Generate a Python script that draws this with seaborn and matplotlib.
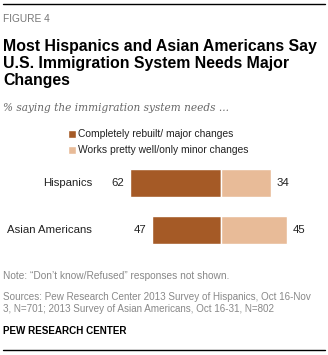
import matplotlib
matplotlib.use("Agg")
import matplotlib.pyplot as plt
import seaborn as sns
import pandas as pd

categories = ["Hispanics", "Asian Americans"]
major_changes = [62, 47]
minor_changes = [34, 45]
series_names = ["Completely rebuilt/ major changes", "Works pretty well/only minor changes"]
colors = ["#A55A26", "#E8BB98"]

W, H = 328, 355
sns.set_theme(style="white")
plt.rcParams['font.family'] = ['Liberation Sans', 'DejaVu Sans']

fig = plt.figure(figsize=(W / 100, H / 100), dpi=100)

def fx(px):
    return px / W

def fy(py):
    return 1 - py / H

# axes: zero at x=221 px, 1.475 px per unit
ppu = 1.475
x0 = 221
xmin, xmax = -80, 60
left_px = x0 + xmin * ppu
right_px = x0 + xmax * ppu
top_px, bot_px = 159.5, 253.5   # centers at 183 and 230 -> 47 px spacing
ax = fig.add_axes([fx(left_px), fy(bot_px), fx(right_px - left_px), (bot_px - top_px) / H])

df = pd.DataFrame({"cat": categories,
                   "major": [-v for v in major_changes],
                   "minor": minor_changes})
sns.barplot(data=df, x="major", y="cat", orient="h", color=colors[0], width=0.6,
            saturation=1, ax=ax, label=series_names[0])
sns.barplot(data=df, x="minor", y="cat", orient="h", color=colors[1], width=0.6,
            saturation=1, ax=ax, label=series_names[1])
ax.set_xlim(xmin, xmax)
ax.set_ylim(1.5, -0.5)
ax.axis("off")
if ax.get_legend():
    ax.get_legend().remove()

fs = 8.2
gap = 5 / ppu
for i, cat in enumerate(categories):
    ax.text(-major_changes[i] - gap, i, str(major_changes[i]), ha="right", va="center",
            fontsize=fs, color="#222222")
    ax.text(minor_changes[i] + gap, i, str(minor_changes[i]), ha="left", va="center",
            fontsize=fs, color="#222222")
    ax.text(xmin + (92 - left_px) / ppu, i, cat, ha="right", va="center",
            fontsize=fs, color="#222222")

# legend
handles = [ax.containers[0], ax.containers[1]]
leg = fig.legend(handles, series_names, loc="upper left",
                 bbox_to_anchor=(fx(68), fy(129.5)), frameon=False, fontsize=7.4,
                 handlelength=0.8, handleheight=0.8, handletextpad=0.2,
                 labelspacing=0.55, borderaxespad=0, borderpad=0, labelcolor="#222222")

# header lines
fig.add_artist(plt.Line2D([fx(3), fx(325)], [fy(4.3), fy(4.3)], color="black", lw=1))
fig.add_artist(plt.Line2D([fx(3), fx(325)], [fy(349.5), fy(349.5)], color="black", lw=1))

fig.text(fx(3), fy(14), "FIGURE 4", fontsize=7.3, color="#777777", va="top", ha="left")
fig.text(fx(3), fy(38.5), "Most Hispanics and Asian Americans Say\nU.S. Immigration System Needs Major\nChanges",
         fontsize=11.4, fontweight="bold", color="black", va="top", ha="left", linespacing=1.2)
fig.text(fx(3), fy(103), "% saying the immigration system needs ...", fontsize=7.6,
         fontstyle="italic", family=["DejaVu Serif"], color="#666666", va="top", ha="left")

fig.text(fx(3), fy(271), "Note: \u201cDon\u2019t know/Refused\u201d responses not shown.",
         fontsize=7.3, color="#888888", va="top", ha="left")
fig.text(fx(3), fy(292), "Sources: Pew Research Center 2013 Survey of Hispanics, Oct 16-Nov\n3, N=701; 2013 Survey of Asian Americans, Oct 16-31, N=802",
         fontsize=7.1, color="#888888", va="top", ha="left", linespacing=1.2)
fig.text(fx(3), fy(326), "PEW RESEARCH CENTER", fontsize=7.1, fontweight="bold",
         color="black", va="top", ha="left")

fig.savefig("out.png", dpi=100)
